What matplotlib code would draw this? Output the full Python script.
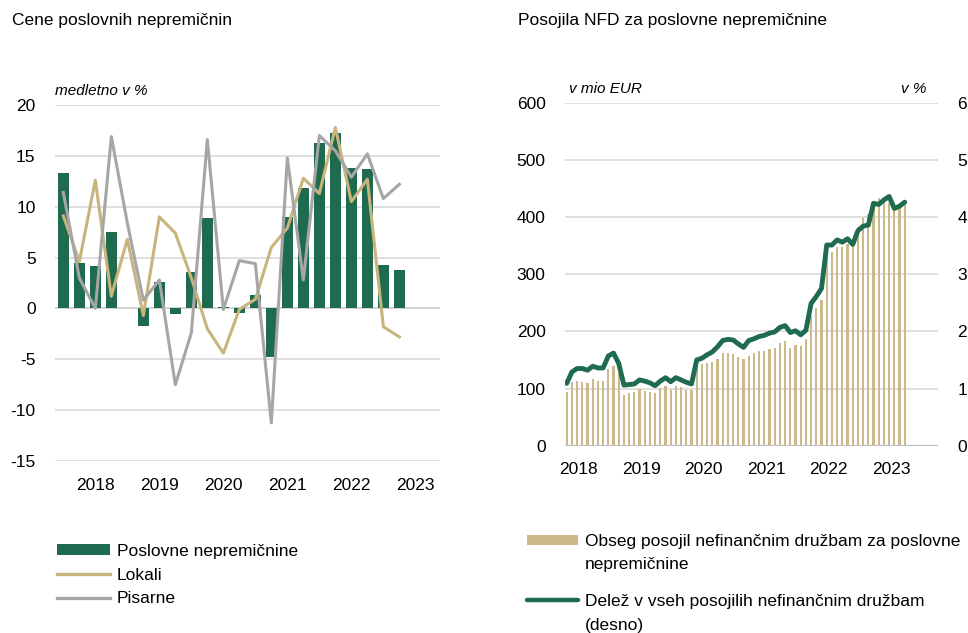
import matplotlib
matplotlib.use('Agg')
import matplotlib.pyplot as plt
import numpy as np
from matplotlib.lines import Line2D
from matplotlib.patches import Patch

plt.rcParams['font.family'] = ['Liberation Sans', 'DejaVu Sans']
plt.rcParams['axes.unicode_minus'] = False

GREEN = '#1f6b50'
GOLD = '#c8b47c'
GOLD_BAR = '#cbb98a'
GRAY = '#a6a6a6'
GRID = '#d9d9d9'

# levo: cene poslovnih nepremicnin, cetrtletno 2017Q3-2022Q4, medletno v %
years = ['2018', '2019', '2020', '2021', '2022', '2023']
poslovne = [13.3, 4.5, 4.2, 7.5, 0.0, -1.7, 2.6, -0.55, 3.6, 8.9, 0.15, -0.45,
            1.3, -4.8, 8.95, 11.8, 16.3, 17.2, 13.85, 13.7, 4.3, 3.8]
lokali = [9.1, 4.6, 12.6, 1.2, 6.8, -0.7, 9.0, 7.4, 3.0, -2.0, -4.4, -0.1,
          0.9, 6.0, 7.9, 12.8, 11.3, 17.8, 10.5, 12.7, -1.8, -2.8]
pisarne = [11.4, 3.0, 0.0, 16.9, 8.4, 0.8, 2.8, -7.5, -2.4, 16.6, -0.1, 4.7,
           4.4, -11.25, 14.8, 2.8, 17.0, 15.5, 12.9, 15.2, 10.8, 12.2]

# desno: posojila NFD, mesecno
obseg = [94.5, 110.8, 113, 112, 109.6, 117, 114, 113.7, 134.7, 139, 127.7, 89,
         92.7, 93.3, 98.5, 96.2, 94, 92,
         100.3, 105, 98, 105, 102.6, 96.8, 97.4,
         139, 143, 145, 147, 151, 162, 162, 161, 155, 151, 157.4,
         161.5, 165, 166, 169.7, 171.4, 179, 183.7, 170.8, 175.5, 173.8, 187,
         226.8, 240.8, 255.4,
         335, 339, 348, 347, 353, 348, 383, 399, 405, 427, 433, 430, 424, 413,
         417, 421]
delez = [1.09, 1.29, 1.35, 1.35, 1.32, 1.39, 1.36, 1.36, 1.57, 1.62, 1.44, 1.06,
         1.07, 1.08, 1.15, 1.13, 1.10, 1.05,
         1.13, 1.19, 1.12, 1.19, 1.15, 1.11, 1.08,
         1.50, 1.53, 1.59, 1.64, 1.73, 1.84, 1.86, 1.85, 1.78, 1.72, 1.84,
         1.87, 1.91, 1.93, 1.97, 1.99, 2.07, 2.10, 1.98, 2.01, 1.94, 2.02,
         2.49, 2.61, 2.75,
         3.51, 3.51, 3.60, 3.56, 3.62, 3.52, 3.76, 3.84, 3.86, 4.24, 4.22, 4.30,
         4.36, 4.15, 4.19, 4.26]

fig = plt.figure(figsize=(9.68, 6.33), dpi=100)

# ---- levi graf
ax = fig.add_axes([55 / 968, 1 - 461 / 633, 385 / 968, 356 / 633])
xq = np.arange(len(poslovne))
ax.bar(xq, poslovne, width=0.68, color=GREEN, zorder=2)
ax.plot(xq, lokali, color=GOLD, lw=2.2, zorder=3, solid_joinstyle='round')
ax.plot(xq, pisarne, color=GRAY, lw=2.2, zorder=4, solid_joinstyle='round')
ax.set_xlim(-0.52, 23.54)
ax.set_ylim(-15, 20)
ax.set_yticks(np.arange(-15, 21, 5))
ax.set_xticks(np.arange(len(years)) * 4 + 2)
ax.set_xticklabels(years)
ax.grid(axis='y', color=GRID, lw=1.2, zorder=0)
ax.axhline(0, color='#bfbfbf', lw=1.4, zorder=1)
for s in ax.spines.values():
    s.set_visible(False)
ax.tick_params(length=0, labelsize=12.5, colors='#000000')
ax.tick_params(axis='y', pad=14)
ax.tick_params(axis='x', pad=12)
ax.text(0, 1.02, 'medletno v %', transform=ax.transAxes, fontsize=11,
        style='italic', ha='left', va='bottom')

# ---- desni graf
bx = fig.add_axes([565 / 968, 1 - 445.7 / 633, 373 / 968, 343 / 633])
xm = np.arange(len(obseg))
bx.bar(xm, obseg, width=0.45, color=GOLD_BAR, zorder=2)
bx.set_xlim(-0.33, 71.4)
bx.set_ylim(0, 600)
bx.set_yticks(np.arange(0, 601, 100))
bx.set_xticks(np.arange(len(years)) * 12 + 2.35)
bx.set_xticklabels(years)
bx.grid(axis='y', color=GRID, lw=1.2, zorder=0)
bx.axhline(0, color='#bfbfbf', lw=1.6, zorder=3)
for s in bx.spines.values():
    s.set_visible(False)
bx.tick_params(length=0, labelsize=12.5)
bx.tick_params(axis='y', pad=14)
bx.tick_params(axis='x', pad=12)
bx.text(0.01, 1.02, 'v mio EUR', transform=bx.transAxes, fontsize=11,
        style='italic', ha='left', va='bottom')
bx.text(0.97, 1.02, 'v %', transform=bx.transAxes, fontsize=11,
        style='italic', ha='right', va='bottom')

bx2 = bx.twinx()
bx2.plot(xm, delez, color=GREEN, lw=3.5, solid_joinstyle='round',
         solid_capstyle='round', zorder=4)
bx2.set_ylim(0, 6)
bx2.set_yticks(np.arange(0, 7, 1))
for s in bx2.spines.values():
    s.set_visible(False)
bx2.tick_params(length=0, labelsize=12.5, pad=14)

# ---- naslovi
fig.text(12 / 968, 1 - 20 / 633, 'Cene poslovnih nepremičnin', fontsize=12.5,
         va='center', ha='left')
fig.text(518 / 968, 1 - 20 / 633, 'Posojila NFD za poslovne nepremičnine',
         fontsize=12.5, va='center', ha='left')

# ---- legende
leg_kw = dict(frameon=False, borderpad=0, borderaxespad=0, fontsize=12.5,
              handletextpad=0.4, loc='upper left')
h_left = [Patch(facecolor=GREEN, edgecolor='none'),
          Line2D([], [], color=GOLD, lw=2.4),
          Line2D([], [], color=GRAY, lw=2.4)]
fig.legend(h_left, ['Poslovne nepremičnine', 'Lokali', 'Pisarne'],
           bbox_to_anchor=(57 / 968, 1 - 544 / 633), handlelength=3.05,
           handleheight=0.6, labelspacing=0.5, **leg_kw)

blank = Line2D([], [], linestyle='none')
fig.legend([Patch(facecolor=GOLD_BAR, edgecolor='none'), blank],
           ['Obseg posojil nefinančnim družbam za poslovne', 'nepremičnine'],
           bbox_to_anchor=(527 / 968, 1 - 534 / 633), handlelength=2.95,
           handleheight=0.5, labelspacing=0.48, **leg_kw)
fig.legend([Line2D([], [], color=GREEN, lw=3.2, solid_capstyle='round'), blank],
           ['Delež v vseh posojilih nefinančnim družbam', '(desno)'],
           bbox_to_anchor=(527 / 968, 1 - 594 / 633), handlelength=2.95,
           labelspacing=0.48, **leg_kw)

fig.savefig('out.png', dpi=100)
